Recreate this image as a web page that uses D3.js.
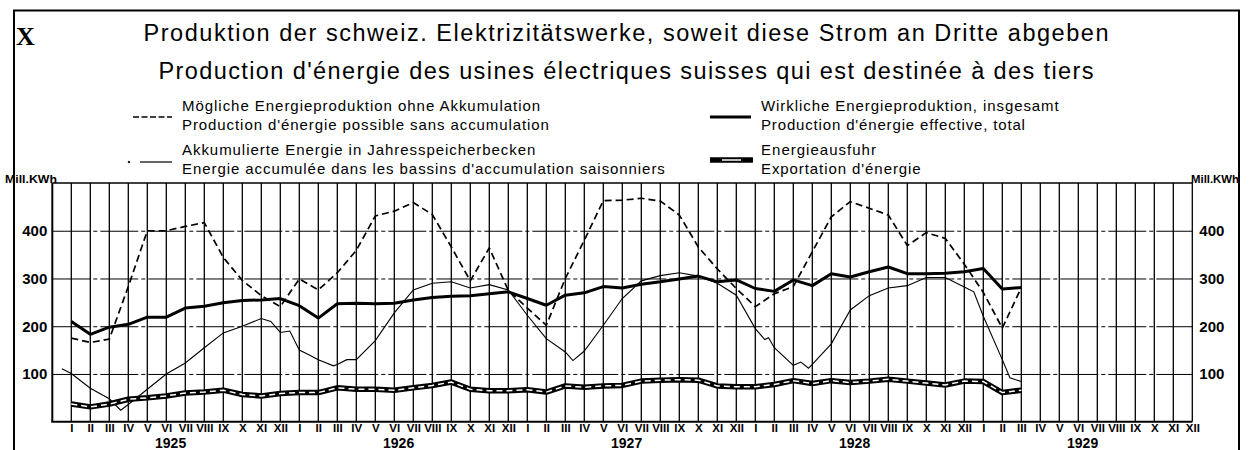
<!DOCTYPE html>
<html><head><meta charset="utf-8">
<script src="https://cdn.jsdelivr.net/npm/d3@7"></script>
<style>
body{margin:0;background:#fff;}
svg{display:block;}
text{font-family:"Liberation Sans",Arial,sans-serif;fill:#000;}
</style></head><body>
<svg id="c" width="1249" height="450"></svg>
<script>
// ---------- data ----------
const monthLabels = ["I","II","III","IV","V","VI","VII","VIII","IX","X","XI","XII"];
const yearLabels = [1925,1926,1927,1928,1929];
const yTicks = [100,200,300,400];
// month index 0 = Jan 1925 ... 50 = Mar 1929
const possibleProd = [175,166,173,283,400,400,409,417,344,296,264,241,
  299,276,312,359,431,441,459,434,366,295,364,275,
  238,202,300,380,463,464,468,462,433,366,320,279,
  241,268,283,356,429,461,447,433,369,396,384,330,
  271,196,281];
const actualProd = [210,183,198,204,219,219,238,242,249,254,255,258,
  243,217,247,248,247,248,255,260,263,264,268,272,
  258,244,265,270,283,280,288,293,299,305,293,297,
  279,273,297,285,310,303,314,324,310,310,311,314,
  321,278,281];
const exportProd = [37,31,37,47,50,54,60,62,66,57,54,59,
  61,61,71,68,68,66,71,76,83,68,65,65,
  67,62,75,72,75,76,85,87,88,87,75,73,
  73,78,86,80,86,82,85,89,85,81,77,85,
  84,61,66];
const accumMonth = [-0.5,0,1,2,2.6,3,4,5,6,7,8,9,10,10.5,11,11.5,12,12.5,13,13.8,14,14.5,15,
  16,17,18,19,20,21,22,23,24,25,26,26.4,27,28,29,30,31,32,33,34,35,36,36.5,36.7,37,38,38.4,38.8,39,
  40,41,42,43,44,45,46,47,47.5,48,49,49.4,50];
const accumValue = [111,101,70,48,24,36,68,100,123,155,186,200,216,210,187,190,150,140,130,117,120,130,130,
  170,228,276,290,293,280,287,276,223,174,146,128,148,202,258,295,306,312,305,290,265,195,172,176,155,118,125,112,120,
  163,234,264,280,285,302,302,282,272,221,130,92,84];

const titleDE = "Produktion der schweiz. Elektrizitätswerke, soweit diese Strom an Dritte abgeben";
const titleFR = "Production d'énergie des usines électriques suisses qui est destinée à des tiers";
const legendTexts = [
  ["Mögliche Energieproduktion ohne Akkumulation","Production d'énergie possible sans accumulation"],
  ["Akkumulierte Energie in Jahresspeicherbecken","Energie accumulée dans les bassins d'accumulation saisonniers"],
  ["Wirkliche Energieproduktion, insgesamt","Production d'énergie effective, total"],
  ["Energieausfuhr","Exportation d'énergie"]
];
const unitLabel = "Mill.KWh";

// ---------- layout ----------
const svg = d3.select("#c");
const L = 52.3, R = 1192.3, B = 421.7, T = 183;
const x = d3.scaleLinear().domain([-1,59]).range([L,R]);
const y = d3.scaleLinear().domain([0,500]).range([B,T]);

// frame
const fr = svg.append("g").attr("stroke","#000").attr("stroke-width",2);
fr.append("line").attr("x1",13).attr("x2",1240).attr("y1",10.5).attr("y2",10.5);
fr.append("line").attr("x1",14).attr("x2",14).attr("y1",10).attr("y2",450);
fr.append("line").attr("x1",1239).attr("x2",1239).attr("y1",10).attr("y2",450);

svg.append("text").attr("x",16).attr("y",45)
  .style("font-family","'Liberation Serif','Times New Roman',serif")
  .style("font-weight","bold").style("font-size","26px").text("X");

svg.append("text").attr("x",626).attr("y",41).attr("text-anchor","middle")
  .style("font-size","23.5px").attr("textLength",965).attr("lengthAdjust","spacing").text(titleDE);
svg.append("text").attr("x",626).attr("y",79).attr("text-anchor","middle")
  .style("font-size","23.5px").attr("textLength",935).attr("lengthAdjust","spacing").text(titleFR);

// grid verticals
const grid = svg.append("g");
grid.selectAll("line.v").data(d3.range(-1,60)).join("line")
  .attr("x1",d=>x(d)).attr("x2",d=>x(d)).attr("y1",T).attr("y2",B)
  .attr("stroke","#000").attr("stroke-width",d=>d===-1?2:1.3);
// grid horizontals
grid.append("g").attr("transform",`translate(${L},0)`)
  .call(d3.axisLeft(y).tickValues(yTicks).tickSize(-(R-L)).tickFormat(""))
  .call(g=>g.select(".domain").remove())
  .call(g=>g.selectAll(".tick line").attr("stroke","#000").attr("stroke-width",1).attr("stroke-dasharray","38 3 4 3"));
// top & bottom
grid.append("line").attr("x1",L).attr("x2",R).attr("y1",T).attr("y2",T).attr("stroke","#000").attr("stroke-width",1.6);
grid.append("line").attr("x1",L-1).attr("x2",R).attr("y1",B).attr("y2",B).attr("stroke","#000").attr("stroke-width",2);

// y labels
const yl = svg.append("g").attr("transform",`translate(${L},0)`)
  .call(d3.axisLeft(y).tickValues(yTicks).tickSize(0).tickPadding(5));
const yr = svg.append("g").attr("transform",`translate(${R},0)`)
  .call(d3.axisRight(y).tickValues(yTicks).tickSize(0).tickPadding(7));
[yl,yr].forEach(g=>{g.select(".domain").remove();
  g.selectAll("text").style("font-size","15px").style("font-weight","bold")
   .style("font-family","'Liberation Sans Narrow','Arial Narrow','Liberation Sans',sans-serif").attr("fill","#000");});

svg.append("text").attr("x",5).attr("y",183).style("font-size","11px").style("font-weight","bold")
  .attr("textLength",52).attr("lengthAdjust","spacingAndGlyphs").text(unitLabel);
svg.append("text").attr("x",1191).attr("y",183).style("font-size","11px").style("font-weight","bold")
  .attr("textLength",48).attr("lengthAdjust","spacingAndGlyphs").text(unitLabel);

// month axis
const mx = svg.append("g").attr("transform",`translate(0,${B})`)
  .call(d3.axisBottom(x).tickValues(d3.range(60)).tickSize(0).tickPadding(2).tickFormat(i=>monthLabels[i%12]));
mx.select(".domain").remove();
mx.selectAll("text").style("font-size","11.5px").style("font-weight","bold")
  .style("font-family","'Liberation Sans Narrow','Arial Narrow','Liberation Sans',sans-serif").attr("fill","#000");
const yx = svg.append("g").attr("transform",`translate(0,${B})`)
  .call(d3.axisBottom(x).tickValues(yearLabels.map((d,k)=>12*k+5.2)).tickSize(0).tickPadding(16.4)
    .tickFormat((d,k)=>yearLabels[k]));
yx.select(".domain").remove();
yx.selectAll("text").style("font-size","14px").style("font-weight","bold").attr("fill","#000");

// series
const line = d3.line().x(d=>x(d[0])).y(d=>y(d[1]));
const pts = arr=>arr.map((v,i)=>[i,v]);
const plot = svg.append("g").attr("fill","none").attr("stroke","#000");
plot.append("path").attr("d",line(pts(possibleProd))).attr("stroke-width",1.7).attr("stroke-dasharray","7 4");
plot.append("path").attr("d",line(accumMonth.map((m,k)=>[m,accumValue[k]]))).attr("stroke-width",1.1);
plot.append("path").attr("d",line(pts(actualProd))).attr("stroke-width",3).attr("stroke-linejoin","round");
plot.append("path").attr("d",line(pts(exportProd))).attr("stroke-width",5.5).attr("stroke-linejoin","round");
plot.append("path").attr("d",line(pts(exportProd))).attr("stroke","#fff").attr("stroke-width",1.5).attr("stroke-dasharray","6 4");

// legend
const lg = svg.append("g").attr("fill","none").attr("stroke","#000");
lg.append("line").attr("x1",133).attr("x2",172).attr("y1",117).attr("y2",117).attr("stroke-width",1.7).attr("stroke-dasharray","6 2.5");
lg.append("circle").attr("cx",129).attr("cy",162).attr("r",0.8).attr("fill","#000");
lg.append("line").attr("x1",140).attr("x2",172).attr("y1",162).attr("y2",162).attr("stroke-width",1.2);
lg.append("line").attr("x1",710).attr("x2",751).attr("y1",117).attr("y2",117).attr("stroke-width",3);
lg.append("line").attr("x1",710).attr("x2",753).attr("y1",160).attr("y2",160).attr("stroke-width",5.5);
lg.append("line").attr("x1",722).attr("x2",741).attr("y1",160).attr("y2",160).attr("stroke","#fff").attr("stroke-width",1.5);

const legPos = [[182,111],[182,155],[761,111],[761,155]];
legendTexts.forEach((pair,k)=>{
  pair.forEach((t,j)=>{
    const el = svg.append("text").attr("x",legPos[k][0]).attr("y",legPos[k][1]+j*19)
      .style("font-size","15px").text(t);
    const w = el.node().getComputedTextLength();
    el.attr("textLength",w*1.13).attr("lengthAdjust","spacing");
  });
});
</script></body></html>
